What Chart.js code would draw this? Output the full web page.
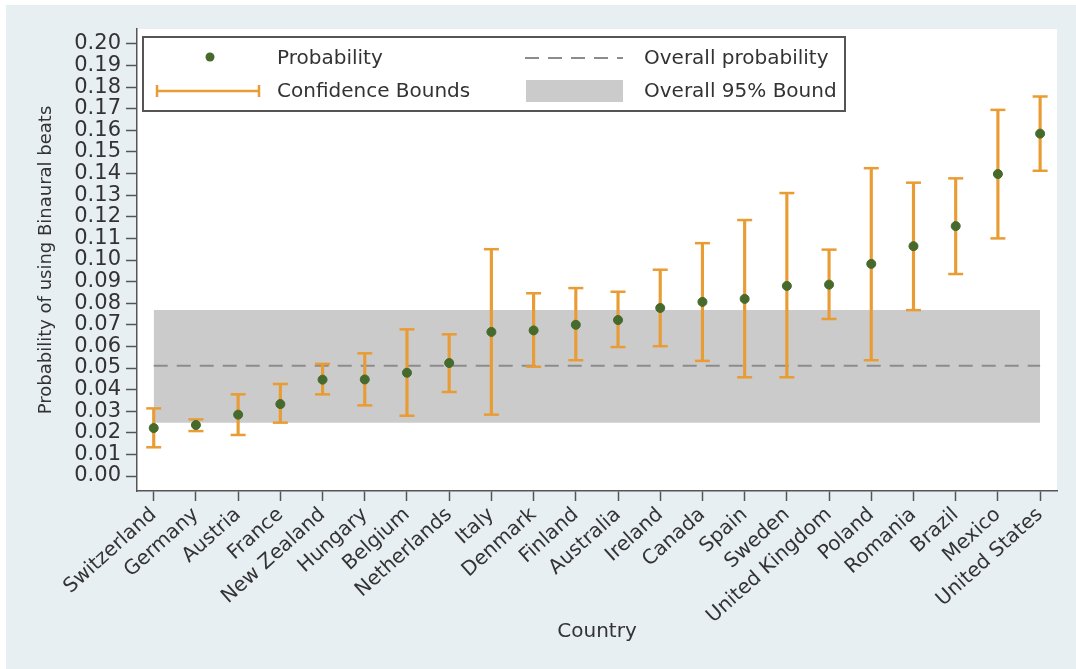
<!DOCTYPE html>
<html>
<head>
<meta charset="utf-8">
<script src="https://cdn.jsdelivr.net/npm/chart.js@4/dist/chart.umd.min.js"></script>
<style>
  html, body { margin: 0; padding: 0; background: #ffffff; }
  #wrap { width: 1076px; height: 669px; }
</style>
</head>
<body>
<div id="wrap"><canvas id="myChart"></canvas></div>
<script>
// countries, sorted by probability
const categories = ["Switzerland", "Germany", "Austria", "France", "New Zealand", "Hungary",
  "Belgium", "Netherlands", "Italy", "Denmark", "Finland", "Australia", "Ireland", "Canada",
  "Spain", "Sweden", "United Kingdom", "Poland", "Romania", "Brazil", "Mexico", "United States"];

const probability = [0.0222, 0.0236, 0.0284, 0.0333, 0.0446, 0.0447, 0.0478, 0.0523, 0.0667, 0.0674, 0.0700,
  0.0722, 0.0778, 0.0806, 0.0820, 0.0880, 0.0886, 0.0982, 0.1064, 0.1157, 0.1398, 0.1585];
const upperBound = [0.0313, 0.0262, 0.0378, 0.0426, 0.0519, 0.0568, 0.0679, 0.0656, 0.1050, 0.0846, 0.0870,
  0.0853, 0.0955, 0.1078, 0.1185, 0.1310, 0.1048, 0.1425, 0.1358, 0.1378, 0.1695, 0.1757];
const lowerBound = [0.0133, 0.0208, 0.0190, 0.0247, 0.0378, 0.0327, 0.0279, 0.0389, 0.0284, 0.0506, 0.0536,
  0.0597, 0.0601, 0.0533, 0.0457, 0.0457, 0.0727, 0.0536, 0.0768, 0.0935, 0.1100, 0.1413];

// overall probability and its 95% bound
const overall = 0.0510;
const overallLow = 0.0247;
const overallHigh = 0.0768;

const yTicks = [0.00, 0.01, 0.02, 0.03, 0.04, 0.05, 0.06, 0.07, 0.08, 0.09, 0.10,
  0.11, 0.12, 0.13, 0.14, 0.15, 0.16, 0.17, 0.18, 0.19, 0.20];

const ORANGE = "#e99c34";
const GREEN = "#456a2b";
const FONT = "'DejaVu Sans', 'Liberation Sans', sans-serif";
const TEXT = "#333333";

const first = 0;
const last = categories.length - 1;

// light panel round the white plot region
const backgroundPlugin = {
  id: "panel",
  beforeDraw(chart) {
    const ctx = chart.ctx;
    const a = chart.chartArea;
    ctx.save();
    ctx.fillStyle = "#ffffff";
    ctx.fillRect(0, 0, chart.width, chart.height);
    ctx.fillStyle = "#e7eff2";
    ctx.fillRect(6, 5, chart.width - 6, chart.height - 5);
    ctx.fillStyle = "#ffffff";
    ctx.fillRect(a.left, a.top, a.right - a.left, a.bottom - a.top);
    ctx.restore();
  },
};

// the stata style legend box
const legendPlugin = {
  id: "boxLegend",
  afterDraw(chart) {
    const ctx = chart.ctx;
    ctx.save();
    ctx.fillStyle = "#ffffff";
    ctx.fillRect(143, 37, 702, 74);
    ctx.strokeStyle = "#555555";
    ctx.lineWidth = 2;
    ctx.strokeRect(143, 37, 702, 74);

    // probability marker
    ctx.fillStyle = GREEN;
    ctx.beginPath();
    ctx.arc(210, 57, 4.5, 0, Math.PI * 2);
    ctx.fill();

    // confidence bound marker
    ctx.strokeStyle = ORANGE;
    ctx.lineWidth = 2.5;
    ctx.beginPath();
    ctx.moveTo(157, 91);
    ctx.lineTo(259, 91);
    ctx.moveTo(157, 85);
    ctx.lineTo(157, 97);
    ctx.moveTo(259, 85);
    ctx.lineTo(259, 97);
    ctx.stroke();

    // overall dashed line
    ctx.strokeStyle = "#8c8c8c";
    ctx.lineWidth = 2;
    ctx.setLineDash([14, 9]);
    ctx.beginPath();
    ctx.moveTo(525, 58);
    ctx.lineTo(623, 58);
    ctx.stroke();
    ctx.setLineDash([]);

    // overall band swatch
    ctx.fillStyle = "#cbcbcb";
    ctx.fillRect(526, 80, 97, 22);

    ctx.fillStyle = TEXT;
    ctx.font = "20px " + FONT;
    ctx.textBaseline = "middle";
    ctx.fillText("Probability", 277, 59);
    ctx.fillText("Confidence Bounds", 277, 92);
    ctx.fillText("Overall probability", 644, 59);
    ctx.fillText("Overall 95% Bound", 644, 92);
    ctx.restore();
  },
};

const ctx = document.getElementById("myChart");

new Chart(ctx, {
  type: "scatter",
  data: {
    datasets: [
      {
        // points on top
        label: "Probability",
        data: categories.map((c, i) => ({ x: i, y: probability[i] })),
        pointRadius: 4.5,
        pointHoverRadius: 4.5,
        backgroundColor: GREEN,
        borderColor: GREEN,
        borderWidth: 1,
        order: 0,
      },
      {
        label: "Upper cap",
        data: categories.map((c, i) => ({ x: i, y: upperBound[i] })),
        pointStyle: "line",
        pointRadius: 7.5,
        borderColor: ORANGE,
        borderWidth: 2.5,
        order: 1,
      },
      {
        label: "Lower cap",
        data: categories.map((c, i) => ({ x: i, y: lowerBound[i] })),
        pointStyle: "line",
        pointRadius: 7.5,
        borderColor: ORANGE,
        borderWidth: 2.5,
        order: 1,
      },
      {
        type: "bar",
        label: "Confidence Bounds",
        data: categories.map((c, i) => ({ x: i, y: [lowerBound[i], upperBound[i]] })),
        backgroundColor: ORANGE,
        borderWidth: 0,
        barThickness: 2.5,
        order: 2,
      },
      {
        type: "line",
        label: "Overall probability",
        data: [{ x: first, y: overall }, { x: last, y: overall }],
        borderColor: "#8c8c8c",
        borderWidth: 2,
        borderDash: [14, 9],
        pointRadius: 0,
        fill: false,
        order: 3,
      },
      {
        type: "line",
        label: "Overall 95% Bound",
        data: [{ x: first, y: overallHigh }, { x: last, y: overallHigh }],
        borderWidth: 0,
        borderColor: "rgba(0,0,0,0)",
        backgroundColor: "#cbcbcb",
        pointRadius: 0,
        fill: "+1",
        order: 4,
      },
      {
        type: "line",
        label: "band low",
        data: [{ x: first, y: overallLow }, { x: last, y: overallLow }],
        borderWidth: 0,
        borderColor: "rgba(0,0,0,0)",
        pointRadius: 0,
        fill: false,
        order: 5,
      },
    ],
  },
  options: {
    responsive: true,
    maintainAspectRatio: false,
    animation: false,
    events: [],
    layout: {
      padding: { top: 29, right: 19, left: 0, bottom: 0 },
    },
    plugins: {
      legend: { display: false },
      tooltip: { enabled: false },
    },
    scales: {
      x: {
        type: "linear",
        offset: false,
        min: -0.396,
        max: 21.4,
        afterBuildTicks: (scale) => {
          scale.ticks = categories.map((c, i) => ({ value: i }));
        },
        afterFit: (scale) => {
          scale.height = 178;
        },
        ticks: {
          autoSkip: false,
          minRotation: 42,
          maxRotation: 42,
          padding: 2,
          color: TEXT,
          font: { family: FONT, size: 20 },
          callback: (value) => categories[value],
        },
        grid: {
          offset: false,
          drawOnChartArea: false,
          drawTicks: true,
          tickLength: 10,
          tickColor: "#555555",
          tickWidth: 1.5,
        },
        border: { display: true, color: "#555555", width: 1.5 },
        title: {
          display: true,
          text: "Country",
          color: TEXT,
          font: { family: FONT, size: 20 },
          padding: { top: 0, bottom: 25 },
        },
      },
      y: {
        min: -0.00694,
        max: 0.20694,
        afterBuildTicks: (scale) => {
          scale.ticks = yTicks.map((v) => ({ value: v }));
        },
        afterFit: (scale) => {
          scale.width = 137;
        },
        ticks: {
          autoSkip: false,
          padding: 5,
          color: TEXT,
          font: { family: FONT, size: 21, lineHeight: 1.0 },
          callback: (value) => value.toFixed(2),
        },
        grid: {
          drawOnChartArea: false,
          drawTicks: true,
          tickLength: 11,
          tickColor: "#555555",
          tickWidth: 1.5,
        },
        border: { display: true, color: "#555555", width: 1.5 },
        title: {
          display: true,
          text: "Probability of using Binaural beats",
          color: TEXT,
          font: { family: FONT, size: 18 },
          padding: { top: 36, bottom: 0 },
        },
      },
    },
  },
  plugins: [backgroundPlugin, legendPlugin],
});
</script>
</body>
</html>
